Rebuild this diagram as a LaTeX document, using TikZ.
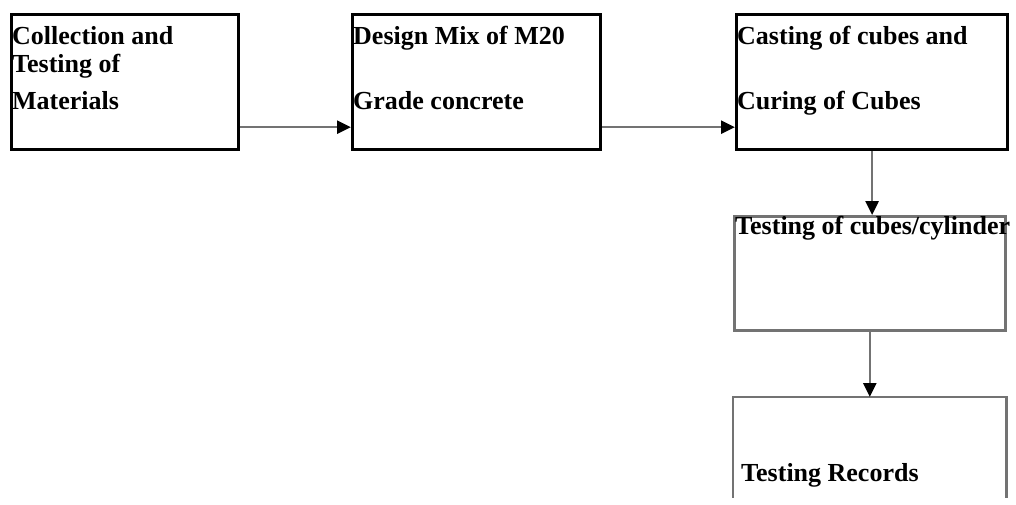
\documentclass[tikz,border=0pt]{standalone}
\usepackage{fontspec}
\setmainfont{Liberation Serif}
\usetikzlibrary{arrows.meta,positioning,calc}

\begin{document}
\begin{tikzpicture}[
    x=1pt, y=-1pt,
    stage/.style={draw=black, line width=3.2pt, inner sep=0pt, anchor=north west, minimum height=135pt},
    lowstage/.style={draw=black!55, line width=2.6pt, inner sep=0pt, anchor=north west, minimum width=271pt},
    caption/.style={font=\bfseries\fontsize{26}{30}\selectfont, anchor=base west, inner sep=0pt},
    flow/.style={-{Triangle[length=14pt, width=13pt, color=black]}, draw=black!55, line width=2.6pt}
]
\useasboundingbox (0,0) rectangle (1016,505);

\node[stage, minimum width=227pt] (collect) at (10,13) {};
\node[stage, minimum width=248pt] (mix) at (351,13) {};
\node[stage, minimum width=271pt] (cast) at (735,13) {};
\node[lowstage, minimum height=114pt] (test) at (733,215) {};
\node[lowstage, draw=none, minimum height=98pt] (record) at (733,397) {};
\draw[draw=black!55, line width=2.6pt] (record.south west) -- (record.north west) -- (record.north east) -- (record.south east);

\node[caption] (collect1) at ([xshift=2pt, yshift=-32pt]collect.north west) {Collection and};
\node[caption] (collect2) at ([xshift=2pt, yshift=-60pt]collect.north west) {Testing of};
\node[caption] (collect3) at ([xshift=2pt, yshift=-97pt]collect.north west) {Materials};

\node[caption] (mix1) at ([xshift=2pt, yshift=-32pt]mix.north west) {Design Mix of M20};
\node[caption] (mix2) at ([xshift=2pt, yshift=-97pt]mix.north west) {Grade concrete};

\node[caption] (cast1) at ([xshift=2pt, yshift=-32pt]cast.north west) {Casting of cubes and};
\node[caption] (cast2) at ([xshift=2pt, yshift=-97pt]cast.north west) {Curing of Cubes};

\node[caption] (test1) at ([xshift=2pt, yshift=-19pt]test.north west) {Testing of cubes/cylinder};
\node[caption] (record1) at ([xshift=8pt, yshift=-84pt]record.north west) {Testing Records};

\draw[flow] ([yshift=24pt]collect.south east) -- ([yshift=24pt]mix.south west);
\draw[flow] ([yshift=24pt]mix.south east) -- ([yshift=24pt]cast.south west);
\draw[flow] (cast.south) -- (cast.south |- test.north);
\draw[flow] (test.south) -- (test.south |- record.north);
\end{tikzpicture}
\end{document}
